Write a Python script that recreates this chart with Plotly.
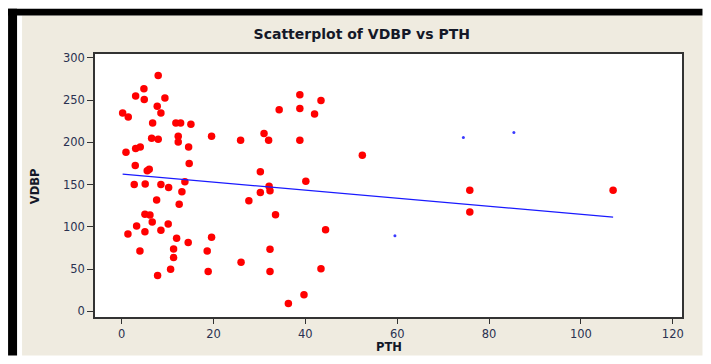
import plotly.graph_objects as go

# ---- data ----
pth = [7.96, 4.85, 3.05, 4.92, 9.42, 7.75, 0.22, 1.44, 8.55, 6.75, 11.81, 12.84, 15.08,
       19.58, 6.53, 7.96, 12.32, 12.32, 14.58, 0.94, 3.05, 4.05, 2.96, 5.57, 6.01, 14.71,
       13.77, 2.74, 5.13, 8.55, 10.23, 13.12, 7.62, 12.53, 5.07, 6.16, 6.66, 3.26, 10.14,
       1.37, 5.07, 8.55, 11.97, 14.49, 19.58, 3.98, 11.31, 18.63, 11.31, 10.66, 18.84, 7.83,
       38.8, 43.4, 34.3, 38.8, 42.0, 31.0, 25.9, 32.0, 38.8, 52.4, 30.2, 40.1, 32.1, 32.3,
       30.2, 27.7, 33.5, 44.4, 32.3, 26.0, 32.3, 43.4, 39.7, 36.3, 75.8, 75.8, 107.0]
vdbp = [279.1, 263.4, 254.7, 250.8, 252.4, 242.6, 234.7, 230.0, 234.7, 222.9, 222.9, 222.9, 221.3,
        207.2, 204.8, 203.7, 207.2, 200.5, 194.6, 188.3, 192.7, 194.6, 172.6, 166.3, 168.3, 175.0,
        153.3, 150.2, 150.6, 150.2, 146.7, 141.5, 131.7, 126.7, 114.9, 114.0, 105.8, 101.1, 103.4,
        91.6, 94.3, 96.0, 86.6, 81.4, 87.7, 71.6, 73.9, 71.6, 63.7, 50.0, 47.2, 42.5,
        256.4, 249.6, 238.7, 239.9, 233.5, 210.4, 202.5, 202.5, 202.5, 184.8, 165.1, 154.1, 148.2, 142.7,
        140.8, 130.9, 114.4, 96.7, 73.6, 58.3, 47.2, 50.4, 19.7, 9.4, 143.2, 117.6, 143.2]

# small blue specks visible in the picture
speck_x = [74.4, 85.4, 59.5]
speck_y = [205.7, 211.6, 89.6]

# fitted line
fit_intercept = 162.6
fit_slope = -0.478

x_ticks = [0, 20, 40, 60, 80, 100, 120]
y_ticks = [0, 50, 100, 150, 200, 250, 300]

# ---- layout geometry (window coords; page body adds an 8px margin all round) ----
OFF = 8
WIN_W, WIN_H = 711, 364
W, H = WIN_W - 2 * OFF, WIN_H - 2 * OFF
PL, PR, PT, PB = 95, 682.5, 53.5, 317.3   # plot box in window px
L, R, T, B = PL - OFF, (OFF + W) - PR, PT - OFF, (OFF + H) - PB
pw, ph = PR - PL, PB - PT
FIG_RIGHT, FIG_BOTTOM = OFF + W, OFF + H


def px2x(px):
    return (px - PL) / pw


def py2y(py):
    return (PB - py) / ph


fit_x = [min(pth), max(pth)]
fit_y = [fit_intercept + fit_slope * v for v in fit_x]

fig = go.Figure()
fig.add_trace(go.Scatter(x=pth, y=vdbp, mode="markers",
                         marker=dict(color="#ff0000", size=7.5, line=dict(width=0)),
                         showlegend=False))
fig.add_trace(go.Scatter(x=fit_x, y=fit_y, mode="lines",
                         line=dict(color="#1a1aff", width=1.2), showlegend=False))
fig.add_trace(go.Scatter(x=speck_x, y=speck_y, mode="markers",
                         marker=dict(color="#3a3aff", size=3), showlegend=False))

shapes = [
    # beige panel
    dict(type="rect", xref="paper", yref="paper", x0=px2x(22), x1=px2x(FIG_RIGHT),
         y0=py2y(FIG_BOTTOM), y1=py2y(15), fillcolor="#efebe0", line=dict(width=0), layer="below"),
    # black frame pieces
    dict(type="rect", xref="paper", yref="paper", x0=px2x(OFF), x1=px2x(17),
         y0=py2y(FIG_BOTTOM), y1=py2y(OFF), fillcolor="#000000", line=dict(width=0), layer="below"),
    dict(type="rect", xref="paper", yref="paper", x0=px2x(OFF), x1=px2x(FIG_RIGHT),
         y0=py2y(15), y1=py2y(OFF), fillcolor="#000000", line=dict(width=0), layer="below"),
    # white plot area
    dict(type="rect", xref="paper", yref="paper", x0=0, x1=1, y0=0, y1=1,
         fillcolor="#ffffff", line=dict(width=0), layer="below"),
]

title_font = dict(family="DejaVu Sans", size=11.5, color="#141828")
annotations = [
    dict(text="<b>PTH</b>", xref="paper", yref="paper", x=px2x(389), y=py2y(347),
         xanchor="center", yanchor="middle", showarrow=False, font=title_font),
    dict(text="<b>VDBP</b>", xref="paper", yref="paper", x=px2x(35), y=py2y(186),
         xanchor="center", yanchor="middle", showarrow=False, textangle=-90, font=title_font),
]

tickfont = dict(family="DejaVu Sans", size=11.5, color="#2a3150")

fig.update_layout(
    width=W, height=H,
    margin=dict(l=L, r=R, t=T, b=B, autoexpand=False),
    paper_bgcolor="#ffffff",
    plot_bgcolor="#ffffff",
    shapes=shapes,
    annotations=annotations,
    title=dict(text="<b>Scatterplot of VDBP vs PTH</b>",
               font=dict(family="DejaVu Sans", size=14, color="#141828"),
               x=px2x(362), xref="paper", xanchor="center",
               y=1 - (34.5 - OFF) / H, yref="container", yanchor="middle"),
    xaxis=dict(range=[-5.8, 122.0], tickvals=x_ticks, ticktext=[str(v) for v in x_ticks],
               showgrid=False, zeroline=False, showline=True, mirror=True, automargin=False,
               linecolor="#333333", linewidth=1.5, ticks="outside", ticklen=5,
               tickcolor="#333333", tickwidth=1, tickfont=tickfont),
    yaxis=dict(range=[-6.6, 304.5], tickvals=y_ticks, ticktext=[str(v) for v in y_ticks],
               showgrid=False, zeroline=False, showline=True, mirror=True, automargin=False,
               linecolor="#333333", linewidth=1.5, ticks="outside", ticklen=6,
               tickcolor="#333333", tickwidth=1, tickfont=tickfont),
)

fig.write_html("out.html")
